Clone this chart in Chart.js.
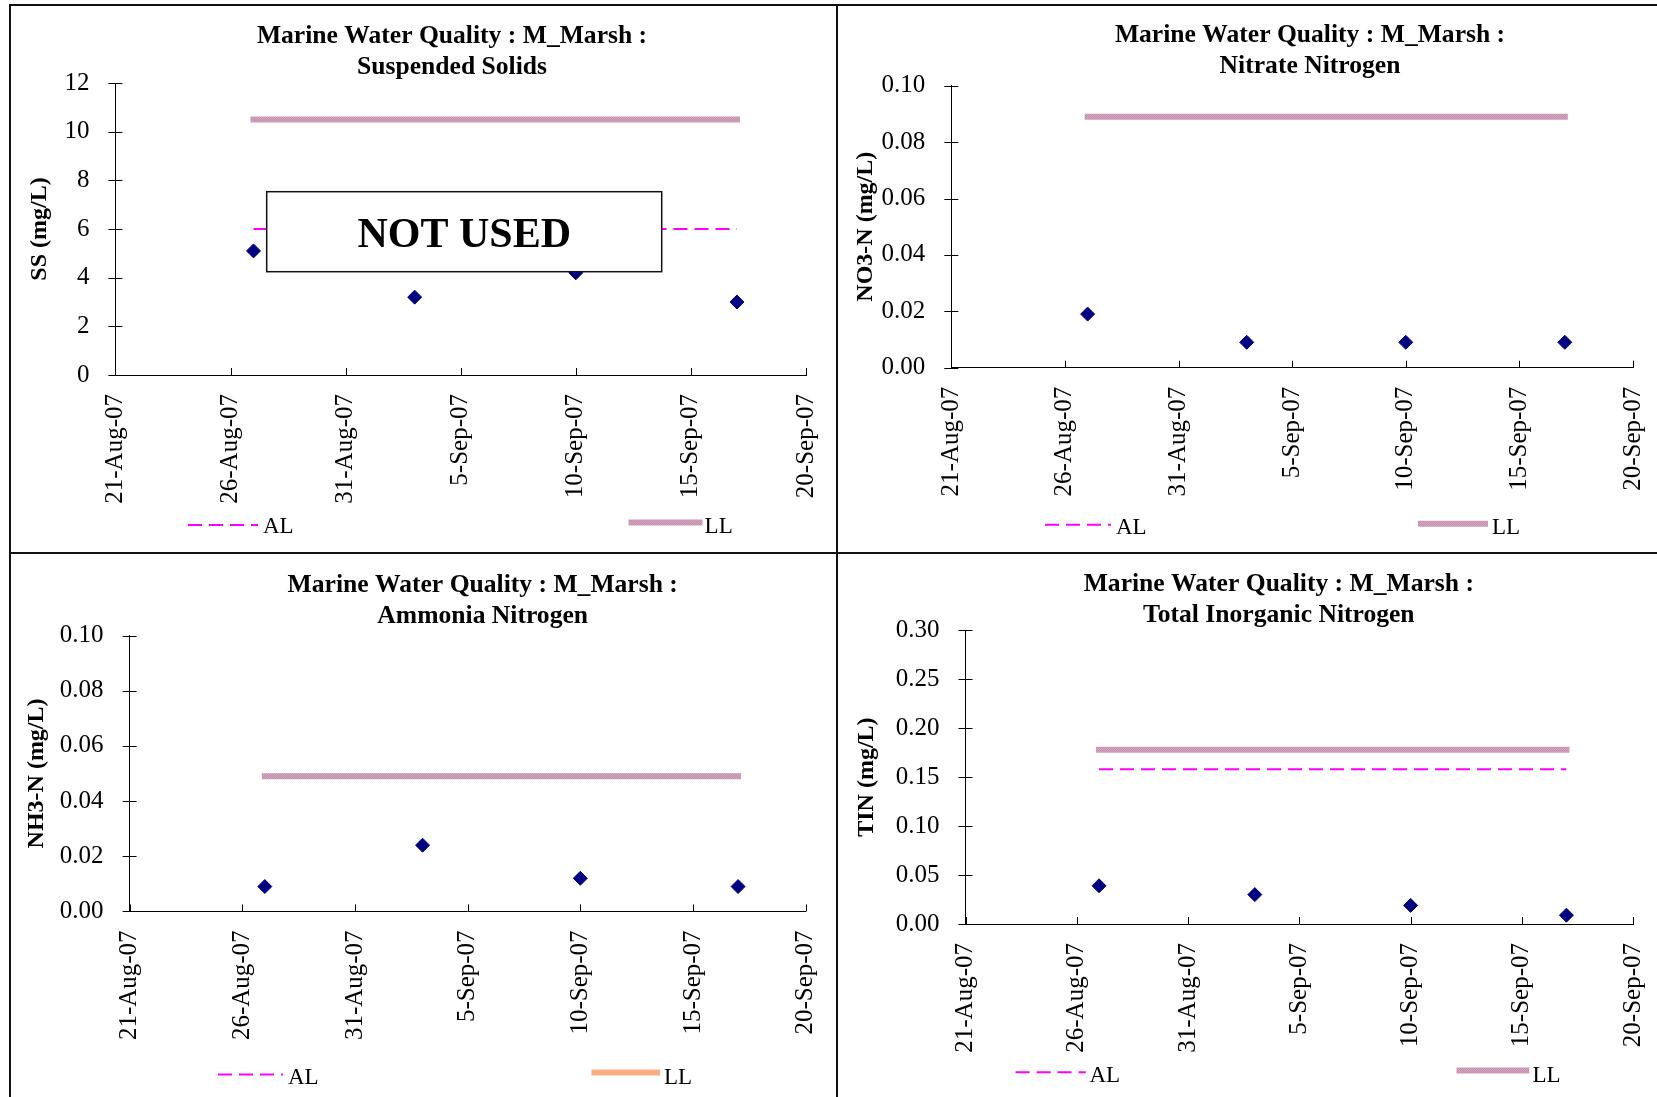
<!DOCTYPE html>
<html>
<head>
<meta charset="utf-8">
<title>Marine Water Quality : M_Marsh</title>
<script src="https://cdn.jsdelivr.net/npm/chart.js@4.4.1/dist/chart.umd.min.js"></script>
<style>
  html, body { margin: 0; padding: 0; background: #fff; }
  body { width: 1657px; height: 1097px; position: relative; overflow: hidden; }
  .panel { position: absolute; box-sizing: border-box; border-left: 2px solid #111; border-top: 2px solid #111; }
  .panel canvas { display: block; }
  #p1 { left: 9px; top: 4px; width: 827px; height: 548px; }
  #p2 { left: 836px; top: 4px; width: 821px; height: 548px; }
  #p3 { left: 9px; top: 552px; width: 827px; height: 545px; }
  #p4 { left: 836px; top: 552px; width: 821px; height: 545px; }
</style>
</head>
<body>
<div class="panel" id="p1"><canvas id="ssChart"></canvas></div>
<div class="panel" id="p2"><canvas id="no3Chart"></canvas></div>
<div class="panel" id="p3"><canvas id="nh3Chart"></canvas></div>
<div class="panel" id="p4"><canvas id="tinChart"></canvas></div>

<script>
// sampling dates and x axis
const sampleDates = ['2007-08-27', '2007-09-03', '2007-09-10', '2007-09-17'];
const axisStart = '2007-08-21';
const axisEnd = '2007-09-20';
const dateTickLabels = ['21-Aug-07', '26-Aug-07', '31-Aug-07', '5-Sep-07', '10-Sep-07', '15-Sep-07', '20-Sep-07'];

// Suspended Solids
const ssValues = [5.1, 3.2, 4.2, 3.0];
const ssAL = [6, 6, 6, 6];
const ssLL = [10.5, 10.5, 10.5, 10.5];
const ssTickLabels = ['0', '2', '4', '6', '8', '10', '12'];

// Nitrate Nitrogen (AL is above the axis range, not drawn)
const no3Values = [0.019, 0.009, 0.009, 0.009];
const no3AL = [];
const no3LL = [0.089, 0.089, 0.089, 0.089];
const no3TickLabels = ['0.00', '0.02', '0.04', '0.06', '0.08', '0.10'];

// Ammonia Nitrogen (AL is above the axis range, not drawn)
const nh3Values = [0.009, 0.024, 0.012, 0.009];
const nh3AL = [];
const nh3LL = [0.049, 0.049, 0.049, 0.049];
const nh3TickLabels = ['0.00', '0.02', '0.04', '0.06', '0.08', '0.10'];

// Total Inorganic Nitrogen
const tinValues = [0.039, 0.030, 0.019, 0.009];
const tinAL = [0.158, 0.158, 0.158, 0.158];
const tinLL = [0.178, 0.178, 0.178, 0.178];
const tinTickLabels = ['0.00', '0.05', '0.10', '0.15', '0.20', '0.25', '0.30'];

const FONT = '"Liberation Serif", "Times New Roman", Times, serif';
Chart.defaults.font.family = FONT;
Chart.defaults.color = '#000';

function toDay(s) {
    const [y, m, d] = s.split('-').map(Number);
    return Date.UTC(y, m - 1, d) / 86400000;
}

function toPoints(values) {
    return values.map((v, i) => ({ x: toDay(sampleDates[i]), y: v }));
}

function makeHatch(ctx, c1, c2) {
    const tile = document.createElement('canvas');
    tile.width = 2;
    tile.height = 2;
    const t = tile.getContext('2d');
    t.fillStyle = c1;
    t.fillRect(0, 0, 2, 2);
    t.fillStyle = c2;
    t.fillRect(0, 0, 1, 1);
    t.fillRect(1, 1, 1, 1);
    return ctx.createPattern(tile, 'repeat');
}

// titles, tick marks, legend and the "NOT USED" stamp
const panelDecor = {
    id: 'panelDecor',
    afterDraw(chart, args, opts) {
        const ctx = chart.ctx;
        const { left, bottom } = chart.chartArea;
        const xs = chart.scales.x;
        const ys = chart.scales.y;
        ctx.save();

        // Excel style tick marks: crossing on y, inside on x
        ctx.strokeStyle = '#000';
        ctx.lineWidth = 1;
        ctx.beginPath();
        ys.ticks.forEach(t => {
            const py = Math.round(ys.getPixelForValue(t.value)) + 0.5;
            ctx.moveTo(left - 7, py);
            ctx.lineTo(left + 7, py);
        });
        xs.ticks.forEach(t => {
            const px = Math.round(xs.getPixelForValue(t.value)) + 0.5;
            ctx.moveTo(px, bottom - 7);
            ctx.lineTo(px, bottom);
        });
        ctx.stroke();

        // title
        ctx.fillStyle = '#000';
        ctx.font = 'bold 25.6px ' + FONT;
        ctx.textAlign = 'center';
        ctx.textBaseline = 'alphabetic';
        opts.title.forEach((line, i) => ctx.fillText(line, opts.titleX, opts.titleBase[i]));

        // legend
        ctx.font = '23px ' + FONT;
        ctx.textAlign = 'left';
        opts.legend.forEach(item => {
            const ds = chart.data.datasets.find(d => d.label === item.label);
            ctx.save();
            ctx.strokeStyle = item.color || ds.borderColor;
            ctx.lineWidth = ds.borderWidth;
            ctx.setLineDash(ds.borderDash || []);
            ctx.beginPath();
            ctx.moveTo(item.x0, item.y);
            ctx.lineTo(item.x1, item.y);
            ctx.stroke();
            ctx.restore();
            ctx.fillText(item.label, item.textX, opts.legendBase);
        });

        // stamp box
        if (opts.stamp) {
            const s = opts.stamp;
            ctx.fillStyle = '#fff';
            ctx.fillRect(s.x, s.y, s.w, s.h);
            ctx.strokeStyle = '#111';
            ctx.lineWidth = 1.5;
            ctx.strokeRect(s.x, s.y, s.w, s.h);
            ctx.fillStyle = '#000';
            ctx.font = 'bold 42px ' + FONT;
            ctx.textAlign = 'center';
            ctx.fillText(s.text, s.x + s.w / 2, s.base);
        }
        ctx.restore();
    }
};

function makeChart(canvasId, cfg) {
    const canvas = document.getElementById(canvasId);
    const box = canvas.parentElement;
    const W = box.clientWidth;
    const H = box.clientHeight;
    canvas.width = W;
    canvas.height = H;
    const ctx = canvas.getContext('2d');
    const llColor = makeHatch(ctx, '#D3A5BE', '#C48FAD');

    const yMin = parseFloat(cfg.yTicks[0]);
    const yMax = parseFloat(cfg.yTicks[cfg.yTicks.length - 1]);
    const yStep = parseFloat(cfg.yTicks[1]) - yMin;

    return new Chart(ctx, {
        type: 'scatter',
        data: {
            datasets: [
                {
                    label: 'data',
                    data: toPoints(cfg.values),
                    showLine: false,
                    pointStyle: 'rectRot',
                    pointRadius: 7,
                    pointBackgroundColor: '#000080',
                    pointBorderColor: '#000080',
                    pointBorderWidth: 1
                },
                {
                    label: 'AL',
                    data: toPoints(cfg.al),
                    showLine: true,
                    borderColor: '#FF00FF',
                    borderWidth: 2,
                    borderDash: [14, 7],
                    pointRadius: 0
                },
                {
                    label: 'LL',
                    data: toPoints(cfg.ll),
                    showLine: true,
                    borderColor: llColor,
                    borderWidth: 6,
                    borderCapStyle: 'square',
                    pointRadius: 0
                }
            ]
        },
        options: {
            responsive: false,
            animation: false,
            events: [],
            layout: {
                padding: { left: 0, top: cfg.area.top, right: W - cfg.area.right, bottom: 0 }
            },
            plugins: {
                legend: { display: false },
                tooltip: { enabled: false },
                panelDecor: {
                    title: cfg.title,
                    titleX: cfg.titleX,
                    titleBase: cfg.titleBase,
                    legend: cfg.legend,
                    legendBase: cfg.legendBase,
                    stamp: cfg.stamp || null
                }
            },
            scales: {
                x: {
                    type: 'linear',
                    min: toDay(axisStart),
                    max: toDay(axisEnd),
                    grid: { display: false, drawTicks: false },
                    border: { display: true, color: '#000', width: 1 },
                    ticks: {
                        stepSize: 5,
                        autoSkip: false,
                        minRotation: 90,
                        maxRotation: 90,
                        padding: 19,
                        font: { size: 25 },
                        color: '#000',
                        callback: (v, i) => dateTickLabels[i]
                    },
                    afterFit: s => {
                        s.height = H - cfg.area.bottom;
                        s.paddingLeft = 0;
                        s.paddingRight = 0;
                    }
                },
                y: {
                    type: 'linear',
                    min: yMin,
                    max: yMax,
                    grid: { display: false, drawTicks: false },
                    border: { display: true, color: '#000', width: 1 },
                    ticks: {
                        stepSize: yStep,
                        padding: 26,
                        font: { size: 25 },
                        color: '#000',
                        callback: (v, i) => cfg.yTicks[i]
                    },
                    title: {
                        display: true,
                        text: cfg.yTitle,
                        font: { size: 24, weight: 'bold' },
                        color: '#000',
                        padding: { top: cfg.yTitlePad, bottom: 0 }
                    },
                    afterFit: s => {
                        s.width = cfg.area.left;
                        s.paddingTop = 0;
                        s.paddingBottom = 0;
                    }
                }
            }
        },
        plugins: [panelDecor]
    });
}

makeChart('ssChart', {
    values: ssValues, al: ssAL, ll: ssLL, yTicks: ssTickLabels,
    yTitle: 'SS (mg/L)', yTitlePad: 14,
    area: { left: 104.4, top: 77, right: 795, bottom: 369 },
    title: ['Marine Water Quality : M_Marsh :', 'Suspended Solids'],
    titleX: 441, titleBase: [36.8, 68.3],
    legendBase: 527,
    legend: [
        { label: 'AL', x0: 177, x1: 247, y: 519, textX: 252 },
        { label: 'LL', x0: 617.5, x1: 691.5, y: 516.5, textX: 693.6 }
    ],
    stamp: { text: 'NOT USED', x: 255.7, y: 185.7, w: 395, h: 80, base: 240.7 }
});

makeChart('no3Chart', {
    values: no3Values, al: no3AL, ll: no3LL, yTicks: no3TickLabels,
    yTitle: 'NO3-N (mg/L)', yTitlePad: 13,
    area: { left: 113.3, top: 79.7, right: 795, bottom: 361.7 },
    title: ['Marine Water Quality : M_Marsh :', 'Nitrate Nitrogen'],
    titleX: 472, titleBase: [36.1, 67.2],
    legendBase: 528,
    legend: [
        { label: 'AL', x0: 207, x1: 273, y: 518.8, textX: 278 },
        { label: 'LL', x0: 580, x1: 650, y: 517.7, textX: 654 }
    ]
});

makeChart('nh3Chart', {
    values: nh3Values, al: nh3AL, ll: nh3LL, yTicks: nh3TickLabels,
    yTitle: 'NH3-N (mg/L)', yTitlePad: 11,
    area: { left: 118.6, top: 81.5, right: 794.7, bottom: 357.4 },
    title: ['Marine Water Quality : M_Marsh :', 'Ammonia Nitrogen'],
    titleX: 471.7, titleBase: [37.9, 68.6],
    legendBase: 529.5,
    legend: [
        { label: 'AL', x0: 207, x1: 272, y: 520.4, textX: 277 },
        { label: 'LL', x0: 580.4, x1: 649.2, y: 518.6, textX: 653, color: '#F9AE84' }
    ]
});

makeChart('tinChart', {
    values: tinValues, al: tinAL, ll: tinLL, yTicks: tinTickLabels,
    yTitle: 'TIN (mg/L)', yTitlePad: 14,
    area: { left: 127.5, top: 76.2, right: 795.2, bottom: 370 },
    title: ['Marine Water Quality : M_Marsh :', 'Total Inorganic Nitrogen'],
    titleX: 440.8, titleBase: [37.2, 67.5],
    legendBase: 527.5,
    legend: [
        { label: 'AL', x0: 177.6, x1: 247.8, y: 518.3, textX: 251.5 },
        { label: 'LL', x0: 618.5, x1: 691.3, y: 516.6, textX: 694.5 }
    ]
});
</script>
</body>
</html>
